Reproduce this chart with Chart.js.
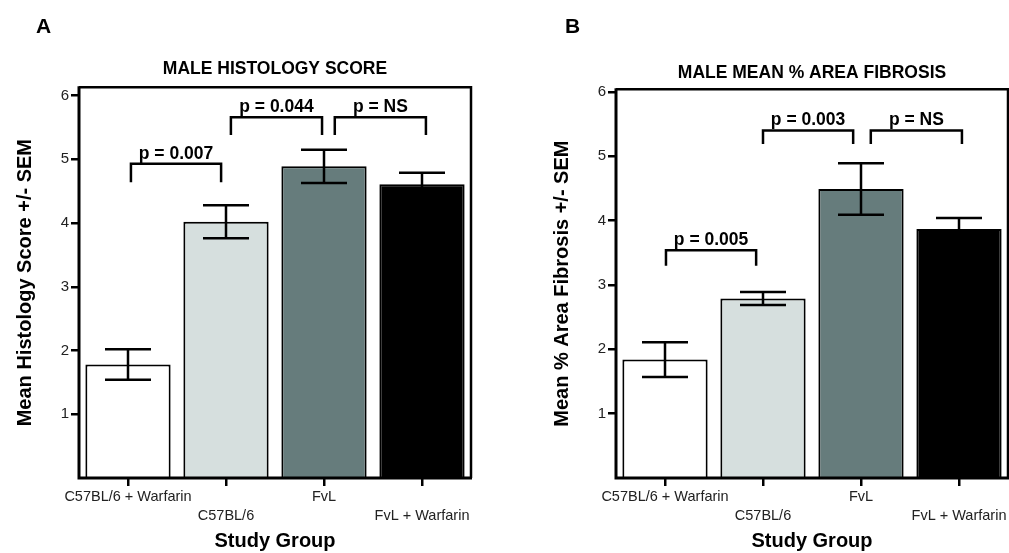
<!DOCTYPE html>
<html>
<head>
<meta charset="utf-8">
<script src="https://cdn.jsdelivr.net/npm/chart.js@4.4.0/dist/chart.umd.min.js"></script>
<style>
  html, body { margin: 0; padding: 0; background: #fff; }
  #page { position: relative; width: 1009px; height: 553px; overflow: hidden; }
  .panel { position: absolute; top: 0; height: 553px; }
  #panelA { left: 0; width: 500px; }
  #panelB { left: 500px; width: 509px; }
  .letter { position: absolute; top: 15px; font: bold 21px/21px 'Liberation Sans', Arial, sans-serif; color: #000; }
</style>
</head>
<body>
<div id="page">
  <div class="panel" id="panelA"><canvas id="chartA"></canvas></div>
  <div class="panel" id="panelB"><canvas id="chartB"></canvas></div>
  <div class="letter" style="left:36px">A</div>
  <div class="letter" style="left:565px">B</div>
</div>
<script>
const groups = ['C57BL/6 + Warfarin', 'C57BL/6', 'FvL', 'FvL + Warfarin'];
const barColors = ['#ffffff', '#d6dfde', '#667c7c', '#000000'];
const yTicks = [1, 2, 3, 4, 5, 6];

// panel A: histology score
const histologyMean = [1.78, 4.02, 4.89, 4.61];
const histologySem = [0.24, 0.26, 0.26, 0.18];
// bracket ends are category positions, heights in score units
const histologyBrackets = [
  { from: 0.03, to: 0.95, top: 4.93, leg: 4.64, label: 'p = 0.007' },
  { from: 1.05, to: 1.98, top: 5.66, leg: 5.38, label: 'p = 0.044' },
  { from: 2.11, to: 3.04, top: 5.66, leg: 5.38, label: 'p = NS' }
];

// panel B: % area fibrosis
const fibrosisMean = [1.84, 2.79, 4.49, 3.87];
const fibrosisSem = [0.27, 0.10, 0.40, 0.17];
const fibrosisBrackets = [
  { from: 0.01, to: 0.93, top: 3.54, leg: 3.30, label: 'p = 0.005' },
  { from: 1.00, to: 1.92, top: 5.40, leg: 5.19, label: 'p = 0.003' },
  { from: 2.10, to: 3.03, top: 5.40, leg: 5.19, label: 'p = NS' }
];

const FONT = "'Liberation Sans', Arial, sans-serif";

// error bars, frame and significance brackets
const extrasPlugin = {
  id: 'extras',
  afterDatasetsDraw(chart, args, opts) {
    const ctx = chart.ctx;
    const xs = chart.scales.x;
    const ys = chart.scales.y;
    const area = chart.chartArea;
    const meta = chart.getDatasetMeta(0);
    const values = chart.data.datasets[0].data;
    ctx.save();
    ctx.strokeStyle = '#000';
    ctx.lineCap = 'butt';

    ctx.lineWidth = 2.5;
    opts.sem.forEach((s, i) => {
      const bx = meta.data[i].x;
      const top = ys.getPixelForValue(values[i] + s);
      const bot = ys.getPixelForValue(values[i] - s);
      ctx.beginPath();
      ctx.moveTo(bx, top); ctx.lineTo(bx, bot);
      ctx.moveTo(bx - 23, top); ctx.lineTo(bx + 23, top);
      ctx.moveTo(bx - 23, bot); ctx.lineTo(bx + 23, bot);
      ctx.stroke();
    });

    // box round the plot
    ctx.lineWidth = 2.5;
    ctx.beginPath();
    ctx.moveTo(area.left, area.top);
    ctx.lineTo(area.right, area.top);
    ctx.lineTo(area.right, area.bottom);
    ctx.stroke();
    ctx.lineWidth = 3;
    ctx.beginPath();
    ctx.moveTo(area.left, area.top - 1);
    ctx.lineTo(area.left, area.bottom);
    ctx.lineTo(area.right + 1, area.bottom);
    ctx.stroke();

    ctx.lineWidth = 2.5;
    ctx.font = 'bold 17.5px ' + FONT;
    ctx.fillStyle = '#000';
    ctx.textAlign = 'center';
    ctx.textBaseline = 'alphabetic';
    opts.brackets.forEach((b) => {
      const x1 = xs.getPixelForValue(b.from);
      const x2 = xs.getPixelForValue(b.to);
      const yt = ys.getPixelForValue(b.top);
      const yl = ys.getPixelForValue(b.leg);
      ctx.beginPath();
      ctx.moveTo(x1, yl); ctx.lineTo(x1, yt); ctx.lineTo(x2, yt); ctx.lineTo(x2, yl);
      ctx.stroke();
      ctx.fillText(b.label, (x1 + x2) / 2, yt - 5);
    });
    ctx.restore();
  }
};

function makeChart(id, cfg) {
  return new Chart(document.getElementById(id), {
    type: 'bar',
    data: {
      labels: groups,
      datasets: [{
        data: cfg.means,
        backgroundColor: barColors,
        borderColor: '#000',
        borderWidth: 2,
        barPercentage: 0.87,
        categoryPercentage: 1
      }]
    },
    options: {
      responsive: true,
      maintainAspectRatio: false,
      animation: false,
      layout: { padding: { left: 0, right: cfg.rightPad, top: 0, bottom: 0 } },
      plugins: {
        legend: { display: false },
        tooltip: { enabled: false },
        title: {
          display: true,
          text: cfg.title,
          fullSize: false,
          color: '#000',
          font: { family: FONT, size: 17.5, weight: 'bold', lineHeight: 1.2 },
          padding: cfg.titlePad
        },
        extras: { sem: cfg.sem, brackets: cfg.brackets }
      },
      scales: {
        x: {
          offset: true,
          border: { display: false },
          grid: {
            offset: false,
            drawOnChartArea: false,
            drawTicks: true,
            tickLength: 8,
            color: '#000',
            lineWidth: 2.5
          },
          ticks: {
            autoSkip: false,
            maxRotation: 0,
            padding: 1.5,
            color: '#222',
            font: { family: FONT, size: 14.5, lineHeight: '19px' },
            callback: (v, i) => (i % 2 === 0 ? groups[i] : ['', groups[i]])
          },
          title: {
            display: true,
            text: 'Study Group',
            color: '#000',
            font: { family: FONT, size: 20, weight: 'bold', lineHeight: 1.2 },
            padding: { top: 0, bottom: 0 }
          },
          afterFit: (s) => { s.height = 75; }
        },
        y: {
          min: 0,
          max: cfg.yMax,
          border: { display: false },
          grid: {
            drawOnChartArea: false,
            drawTicks: true,
            tickLength: 8,
            color: '#000',
            lineWidth: 2.5
          },
          ticks: {
            stepSize: 1,
            padding: 2,
            color: '#222',
            font: { family: FONT, size: 15 }
          },
          afterBuildTicks: (s) => {
            s.ticks = yTicks.map((v) => ({ value: v }));
          },
          title: {
            display: true,
            text: cfg.yTitle,
            color: '#000',
            font: { family: FONT, size: 20, weight: 'bold', lineHeight: 1.2 },
            padding: { top: cfg.yTitlePad, bottom: 0 }
          },
          afterFit: (s) => { s.width = cfg.yWidth; }
        }
      }
    },
    plugins: [extrasPlugin]
  });
}

makeChart('chartA', {
  title: 'MALE HISTOLOGY SCORE',
  yTitle: 'Mean Histology Score +/- SEM',
  means: histologyMean,
  sem: histologySem,
  brackets: histologyBrackets,
  yMax: 6.13,
  yWidth: 79,
  yTitlePad: 13,
  rightPad: 29,
  titlePad: { top: 59, bottom: 7.3 }
});

makeChart('chartB', {
  title: 'MALE MEAN % AREA FIBROSIS',
  yTitle: 'Mean % Area Fibrosis +/- SEM',
  means: fibrosisMean,
  sem: fibrosisSem,
  brackets: fibrosisBrackets,
  yMax: 6.04,
  yWidth: 116,
  yTitlePad: 50,
  rightPad: 1,
  titlePad: { top: 63, bottom: 5.3 }
});
</script>
</body>
</html>
